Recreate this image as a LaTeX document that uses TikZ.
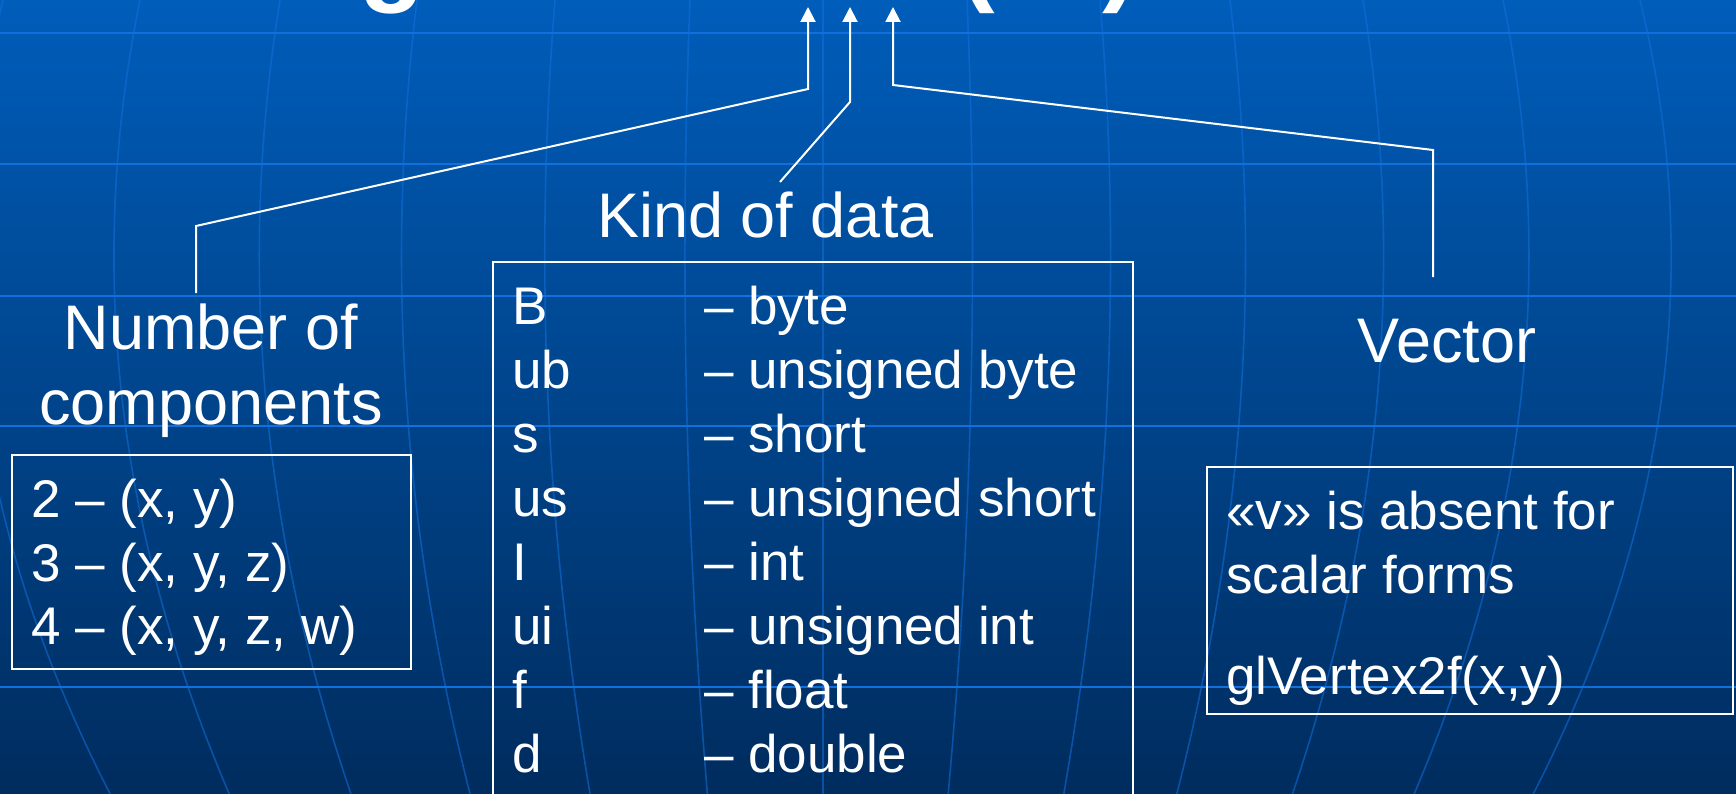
\documentclass[tikz,border=0pt]{standalone}
\usepackage{fontspec}
\setmainfont{Liberation Sans}
\usetikzlibrary{arrows.meta}
\definecolor{bgtop}{RGB}{0,93,186}
\definecolor{bgmid}{RGB}{0,66,138}
\definecolor{bgbot}{RGB}{0,44,94}
\definecolor{gridc}{RGB}{18,112,222}
\begin{document}
\begin{tikzpicture}[x=1pt,y=-1pt,
  head/.style={text=white,font=\fontsize{63}{75}\selectfont,inner sep=0pt,anchor=base},
  item/.style={text=white,font=\fontsize{53}{64}\selectfont,inner sep=0pt,anchor=base west},
  frame/.style={draw=white,line width=2pt,inner sep=0pt,anchor=north west},
  link/.style={draw=white,line width=2pt,line join=miter,-{Triangle[width=15pt,length=15pt]}},
  hline/.style={draw=gridc,line width=2.3pt},
  mline/.style={draw=gridc,line width=1.6pt,opacity=0.55}]
\useasboundingbox (0,0) rectangle (1736,794);
\clip (0,0) rectangle (1736,794);
% background
\shade[top color=bgtop,middle color=bgmid,bottom color=bgbot] (0,0) rectangle (1736,794);
\foreach \d in {-820,-683,-543,-406,-268,-133,0,144,277,407,540,680,817}
  \draw[mline] ({823+\d},0) .. controls ({823+1.0789*\d},264.7) and ({823+1.0354*\d},529.3) .. ({823+0.8693*\d},794);
\foreach \yy in {33,164,296,426,687}
  \draw[hline] (0,\yy) -- (1736,\yy);
% title (cut off at the top)
\node[anchor=base west,text=white,inner sep=0pt,font=\fontsize{107}{110}\selectfont\bfseries] (title) at (359,-8) {glVertex3fv (…)};
\coordinate (t1) at (808,7);
\coordinate (t2) at (850,7);
\coordinate (t3) at (893,7);
% headings
\node[head] (ncomp) at (211,349) {Number of};
\node[head] (ncompb) at (211,424) {components};
\node[head] (kind) at (765.5,238) {Kind of data};
\node[head] (vec) at (1447,362) {Vector};
% boxes
\node[frame,minimum width=399pt,minimum height=214pt] (cbox) at (11,454) {};
\node[frame,minimum width=640pt,minimum height=560pt] (kbox) at (492,261) {};
\node[frame,minimum width=526pt,minimum height=247pt] (vbox) at (1206,466) {};
% components box
\node[item] (c2) at (31,517) {2 – (x, y)};
\node[item] (c3) at (31,581) {3 – (x, y, z)};
\node[item] (c4) at (31,644) {4 – (x, y, z, w)};
% kind box
\node[item] (kB) at (512,324) {B};   \node[item] (dB) at (704,324) {– byte};
\node[item] (kub) at (512,388) {ub}; \node[item] (dub) at (704,388) {– unsigned byte};
\node[item] (ks) at (512,452) {s};   \node[item] (ds) at (704,452) {– short};
\node[item] (kus) at (512,516) {us}; \node[item] (dus) at (704,516) {– unsigned short};
\node[item] (kI) at (512,580) {I};   \node[item] (dI) at (704,580) {– int};
\node[item] (kui) at (512,644) {ui}; \node[item] (dui) at (704,644) {– unsigned int};
\node[item] (kf) at (512,708) {f};   \node[item] (df) at (704,708) {– float};
\node[item] (kd) at (512,772) {d};   \node[item] (dd) at (704,772) {– double};
% vector box
\node[item] (v1) at (1226,529) {«v» is absent for};
\node[item] (v2) at (1226,593) {scalar forms};
\node[item] (v3) at (1226,694) {glVertex2f(x,y)};
% connectors
\coordinate (s1) at (196,293); \coordinate (b1a) at (196,226); \coordinate (b1b) at (808,89);
\coordinate (s2) at (780,182); \coordinate (b2) at (850,102);
\coordinate (s3) at (1433,277); \coordinate (b3a) at (1433,150); \coordinate (b3b) at (893,85);
\draw[link] (s1) -- (b1a) -- (b1b) -- (t1);
\draw[link] (s2) -- (b2) -- (t2);
\draw[link] (s3) -- (b3a) -- (b3b) -- (t3);
\end{tikzpicture}
\end{document}
